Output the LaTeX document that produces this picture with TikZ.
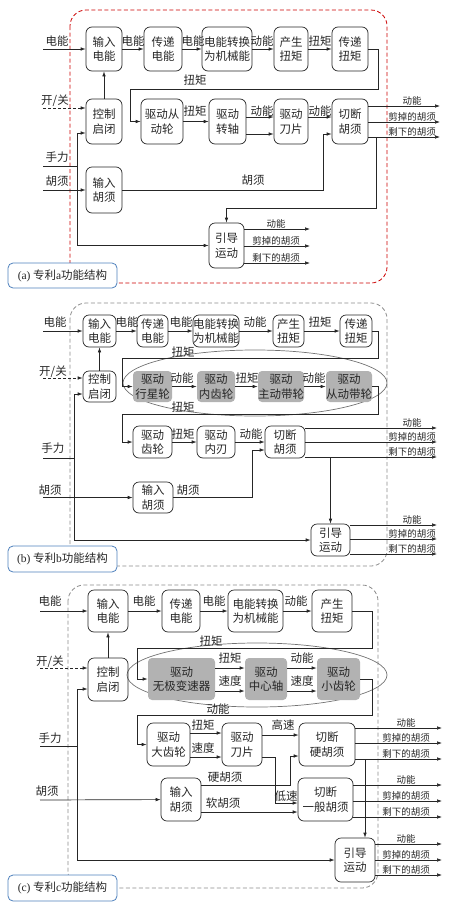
\documentclass[tikz,border=0pt]{standalone}
\usepackage{fontspec}
\setmainfont{Noto Sans CJK SC}
\newfontfamily\latin{Liberation Serif}
\usetikzlibrary{arrows.meta}

\definecolor{tagblue}{RGB}{79,129,189}
\tikzset{
  sz/.style 2 args={minimum width=#1pt, minimum height=#2pt},
  fbox/.style={draw=black!85, line width=0.7pt, rounded corners=6pt, align=center,
    inner sep=0pt, text=black!85, font=\fontsize{11.5}{14.5}\selectfont},
  gbox/.style={fbox, draw=none, fill=black!30, rounded corners=4pt},
  elbl/.style={inner sep=0pt, text=black!85, font=\fontsize{11.5}{13}\selectfont},
  olbl/.style={above, inner sep=1pt, text=black!85, font=\fontsize{9.5}{10}\selectfont},
  flow/.style={draw=black!85, line width=0.7pt, -{Latex[length=5pt,width=3.6pt]}},
  wire/.style={draw=black!85, line width=0.7pt},
  onoff/.style={dash pattern=on 3pt off 2pt},
  frame/.style={line width=0.8pt, dash pattern=on 4pt off 2.5pt, rounded corners=16pt},
  tagbox/.style={draw=tagblue, line width=0.8pt, fill=white, rounded corners=5pt,
    inner sep=0pt, text=black!85, font=\fontsize{11.5}{13}\selectfont}
}

\begin{document}
\begin{tikzpicture}[x=1pt, y=-1pt]
\useasboundingbox (0,0) rectangle (454,908);

%%% (a) patent a
\draw[frame, red!80!black] (70,10) rectangle (387,283);
\node[fbox, sz={36}{44}] (aIn)  at (104,49) {输入\\电能};
\node[fbox, sz={38}{44}] (aTr)  at (163,49) {传递\\电能};
\node[fbox, sz={50}{44}] (aCv)  at (227,49) {电能转换\\为机械能};
\node[fbox, sz={34}{44}] (aGen) at (291,49) {产生\\扭矩};
\node[fbox, sz={36}{44}] (aTq)  at (350,49) {传递\\扭矩};
\node[fbox, sz={36}{45}] (aCtl) at (104,121.5) {控制\\启闭};
\node[fbox, sz={42}{45}] (aDw)  at (162,121.5) {驱动从\\动轮};
\node[fbox, sz={37}{45}] (aSh)  at (227.5,121.5) {驱动\\转轴};
\node[fbox, sz={34}{45}] (aBl)  at (291,121.5) {驱动\\刀片};
\node[fbox, sz={36}{45}] (aCut) at (350,121.5) {切断\\胡须};
\node[fbox, sz={36}{46}] (aWh)  at (104,190) {输入\\胡须};
\node[fbox, sz={35}{45}] (aGd)  at (226.5,245.5) {引导\\运动};
\coordinate (aE) at (43,49);
\coordinate (aS) at (43,108);
\coordinate (aH) at (43,166);
\coordinate (aW) at (43,190);
% flows
\draw[flow] (aE) -- (aIn);
\draw[flow] (aIn) -- (aTr);
\draw[flow] (aTr) -- (aCv);
\draw[flow] (aCv) -- (aGen);
\draw[flow] (aGen) -- (aTq);
\draw[flow] (aTq.east) -- (378,49) -- (378,89) -- (130,89) |- (aDw.west);
\draw[flow] (aDw) -- (aSh);
\draw[flow] (aSh.east |- 0,117) -- (aBl.west |- 0,117);
\draw[flow] (aSh.east |- 0,134) -- (aBl.west |- 0,134);
\draw[flow] (aBl.east |- 0,117) -- (aCut.west |- 0,117);
\draw[flow] (aWh) -- (323,190) |- (aCut.west |- 0,134);
\draw[flow, onoff] (aS) -- (aS -| aCtl.west);
\draw[flow] (aCtl) -- (aIn);
\draw[wire] (aH) -- (77,166);
\draw[flow] (77,166) |- (aCtl.west |- 0,133);
\draw[flow] (77,166) |- (aGd.west);
\draw[flow] (aW) -- (aWh);
\draw[flow] (376,137) -- (376,208) -| (aGd.north);
\foreach \y/\t in {106/动能,122/剪掉的胡须,137/剩下的胡须}{
  \draw[flow] (aCut.east |- 0,\y) -- (440,\y);
  \node[olbl] at (412,\y) {\t};
}
\foreach \y/\t in {229/动能,246/剪掉的胡须,263/剩下的胡须}{
  \draw[flow] (aGd.east |- 0,\y) -- (310,\y);
  \node[olbl] at (276,\y) {\t};
}
% labels
\node[elbl] at (57,41) {电能};
\node[elbl] at (133,41) {电能};
\node[elbl] at (193,41) {电能};
\node[elbl] at (262,41) {动能};
\node[elbl] at (320,41) {扭矩};
\node[elbl] at (195,80) {扭矩};
\node[elbl] at (55,101) {开/关};
\node[elbl] at (195,111) {扭矩};
\node[elbl] at (262,111) {动能};
\node[elbl] at (320,111) {动能};
\node[elbl] at (57,157) {手力};
\node[elbl] at (57,181) {胡须};
\node[elbl] at (253,180) {胡须};
\node[tagbox, sz={109}{25}] (aTag) at (62.5,275.5) {{\latin (a)} 专利{\latin a}功能结构};

%%% (b) patent b
\draw[frame, black!45] (70,303) rectangle (387,566);
\draw[black!55, line width=0.7pt] (255,383) ellipse [x radius=132, y radius=33];
\begin{scope}[every node/.append style={rounded corners=5pt, font=\fontsize{11.5}{13.5}\selectfont}]
\node[fbox, sz={33}{32}] (bIn)  at (99.5,331) {输入\\电能};
\node[fbox, sz={31}{32}] (bTr)  at (152.5,331) {传递\\电能};
\node[fbox, sz={46}{32}] (bCv)  at (216,331) {电能转换\\为机械能};
\node[fbox, sz={31}{32}] (bGen) at (288.5,331) {产生\\扭矩};
\node[fbox, sz={32}{32}] (bTq)  at (356,331) {传递\\扭矩};
\node[fbox, sz={33}{31}] (bCtl) at (99.5,386.5) {控制\\启闭};
\node[gbox, sz={39}{31}] (bPl)  at (152.5,386.5) {驱动\\行星轮};
\node[gbox, sz={38}{31}] (bRg)  at (216,386.5) {驱动\\内齿轮};
\node[gbox, sz={46}{31}] (bDr)  at (281,386.5) {驱动\\主动带轮};
\node[gbox, sz={46}{31}] (bDn)  at (349,386.5) {驱动\\从动带轮};
\node[fbox, sz={39}{32}] (bGr)  at (152.5,442) {驱动\\齿轮};
\node[fbox, sz={38}{32}] (bKn)  at (216,442) {驱动\\内刃};
\node[fbox, sz={40}{32}] (bCut) at (285,442) {切断\\胡须};
\node[fbox, sz={40}{31}] (bWh)  at (153,497.5) {输入\\胡须};
\node[fbox, sz={39}{32}] (bGd)  at (330.5,540) {引导\\运动};
\end{scope}
\coordinate (bE) at (43,331);
\coordinate (bS) at (43,378);
\coordinate (bH) at (43,458);
\coordinate (bW) at (43,497.5);
% flows
\draw[flow] (bE) -- (bIn);
\draw[flow] (bIn) -- (bTr);
\draw[flow] (bTr) -- (bCv);
\draw[flow] (bCv) -- (bGen);
\draw[flow] (bGen) -- (bTq);
\draw[flow] (bTq.east) -- (378,331) -- (378,358) -- (122,358) |- (bPl.west);
\draw[flow] (bPl) -- (bRg);
\draw[flow] (bRg) -- (bDr);
\draw[flow] (bDr) -- (bDn);
\draw[flow] (bDn.east) -- (378,386.5) -- (378,414) -- (122,414) |- (bGr.west);
\draw[flow] (bGr) -- (bKn);
\draw[flow] (bKn) -- (bCut);
\draw[flow] (bWh) -- (252,497.5) |- (bCut.west |- 0,450);
\draw[flow, onoff] (bS) -- (bS -| bCtl.west);
\draw[flow] (bCtl) -- (bIn);
\draw[wire] (bH) -- (74,458);
\draw[flow] (74,458) |- (bCtl.west |- 0,394);
\draw[flow] (74,458) |- (bGd.west);
\draw[flow] (bW) -- (bWh);
\draw[flow] (bGd.north |- 0,457) -- (bGd.north);
\foreach \y/\t in {428/动能,442/剪掉的胡须,457/剩下的胡须}{
  \draw[flow] (bCut.east |- 0,\y) -- (437,\y);
  \node[olbl] at (412,\y) {\t};
}
\foreach \y/\t in {525/动能,539/剪掉的胡须,554/剩下的胡须}{
  \draw[flow] (bGd.east |- 0,\y) -- (437,\y);
  \node[olbl] at (412,\y) {\t};
}
% labels
\node[elbl] at (55,322) {电能};
\node[elbl] at (127,322) {电能};
\node[elbl] at (181,322) {电能};
\node[elbl] at (255,322) {动能};
\node[elbl] at (320,322) {扭矩};
\node[elbl] at (183,352) {扭矩};
\node[elbl] at (53,372) {开/关};
\node[elbl] at (182,378) {动能};
\node[elbl] at (247,378) {扭矩};
\node[elbl] at (314,378) {动能};
\node[elbl] at (183,407) {扭矩};
\node[elbl] at (183,434) {扭矩};
\node[elbl] at (251,434) {动能};
\node[elbl] at (53,448) {手力};
\node[elbl] at (50,490) {胡须};
\node[elbl] at (188,490) {胡须};
\node[tagbox, sz={109}{26}] (bTag) at (62.5,559) {{\latin (b)} 专利{\latin b}功能结构};

%%% (c) patent c
\draw[frame, black!45] (68,585) rectangle (378,888);
\draw[black!55, line width=0.7pt] (257,675) ellipse [x radius=130, y radius=32];
\node[fbox, sz={40}{42}] (cIn)  at (108,611) {输入\\电能};
\node[fbox, sz={38}{42}] (cTr)  at (181,611) {传递\\电能};
\node[fbox, sz={55}{42}] (cCv)  at (255.5,611) {电能转换\\为机械能};
\node[fbox, sz={40}{42}] (cGen) at (332,611) {产生\\扭矩};
\node[fbox, sz={40}{43}] (cCtl) at (108,679.5) {控制\\启闭};
\node[gbox, sz={67}{42}] (cVt)  at (181.5,679) {驱动\\无极变速器};
\node[gbox, sz={42}{42}] (cAx)  at (266,679) {驱动\\中心轴};
\node[gbox, sz={43}{42}] (cPn)  at (338.5,679) {驱动\\小齿轮};
\node[fbox, sz={43}{43}] (cGr)  at (168.5,744.5) {驱动\\大齿轮};
\node[fbox, sz={40}{43}] (cBl)  at (242,744.5) {驱动\\刀片};
\node[fbox, sz={56}{43}] (cHd)  at (327,744.5) {切断\\硬胡须};
\node[fbox, sz={40}{43}] (cWh)  at (181,799.5) {输入\\胡须};
\node[fbox, sz={55}{43}] (cGn)  at (325.5,799.5) {切断\\一般胡须};
\node[fbox, sz={40}{44}] (cGd)  at (355,860) {引导\\运动};
\coordinate (cE) at (40,611);
\coordinate (cS) at (40,668);
\coordinate (cH) at (40,746);
\coordinate (cW) at (40,800);
% flows
\draw[flow] (cE) -- (cIn);
\draw[flow] (cIn) -- (cTr);
\draw[flow] (cTr) -- (cCv);
\draw[flow] (cCv) -- (cGen);
\draw[flow] (cGen.east) -- (372,611) -- (372,648) -- (137,648) |- (cVt.west);
\draw[flow] (cVt.east |- 0,668) -- (cAx.west |- 0,668);
\draw[flow] (cVt.east |- 0,691) -- (cAx.west |- 0,691);
\draw[flow] (cAx.east |- 0,668) -- (cPn.west |- 0,668);
\draw[flow] (cAx.east |- 0,691) -- (cPn.west |- 0,691);
\draw[flow] (cPn.east) -- (372,679) -- (372,715) -- (137,715) |- (cGr.west);
\draw[flow] (cGr.east |- 0,733) -- (cBl.west |- 0,733);
\draw[flow] (cGr.east |- 0,757) -- (cBl.west |- 0,757);
\draw[flow] (cBl.east |- 0,735) -- (cHd.west |- 0,735);
\draw[flow] (cBl.east |- 0,757) -- (275,757) |- (cGn.west |- 0,803);
\draw[flow] (cWh.east |- 0,785) -- (290,785) |- (cHd.west |- 0,756);
\draw[flow] (cWh.east |- 0,812) -- (cGn.west |- 0,812);
\draw[flow, onoff] (cS) -- (cS -| cCtl.west);
\draw[flow] (cCtl) -- (cIn);
\draw[wire] (cH) -- (77,746);
\draw[flow] (77,746) |- (cCtl.west |- 0,689);
\draw[flow] (77,746) |- (cGd.west);
\draw[flow] (cW) -- (cWh);
\draw[flow] (365,759) -- (cGd.north -| 365,0);
\foreach \y/\t in {728/动能,743/剪掉的胡须,759/剩下的胡须}{
  \draw[flow] (cHd.east |- 0,\y) -- (442,\y);
  \node[olbl] at (406,\y) {\t};
}
\foreach \y/\t in {785/动能,801/剪掉的胡须,817/剩下的胡须}{
  \draw[flow] (cGn.east |- 0,\y) -- (442,\y);
  \node[olbl] at (406,\y) {\t};
}
\foreach \y/\t in {844/动能,860/剪掉的胡须,875/剩下的胡须}{
  \draw[flow] (cGd.east |- 0,\y) -- (442,\y);
  \node[olbl] at (406,\y) {\t};
}
% labels
\node[elbl] at (50,601) {电能};
\node[elbl] at (144,601) {电能};
\node[elbl] at (214,601) {电能};
\node[elbl] at (296,601) {动能};
\node[elbl] at (211,641) {扭矩};
\node[elbl] at (50,662) {开/关};
\node[elbl] at (230,658) {扭矩};
\node[elbl] at (230,681) {速度};
\node[elbl] at (302,658) {动能};
\node[elbl] at (302,681) {速度};
\node[elbl] at (218,709) {动能};
\node[elbl] at (203,725) {扭矩};
\node[elbl] at (203,748) {速度};
\node[elbl] at (283,725) {高速};
\node[elbl] at (50,738) {手力};
\node[elbl] at (225,777) {硬胡须};
\node[elbl] at (47,791) {胡须};
\node[elbl] at (286,796) {低速};
\node[elbl] at (223,803) {软胡须};
\node[tagbox, sz={109}{26}] (cTag) at (62.5,888) {{\latin (c)} 专利{\latin c}功能结构};
\end{tikzpicture}
\end{document}
